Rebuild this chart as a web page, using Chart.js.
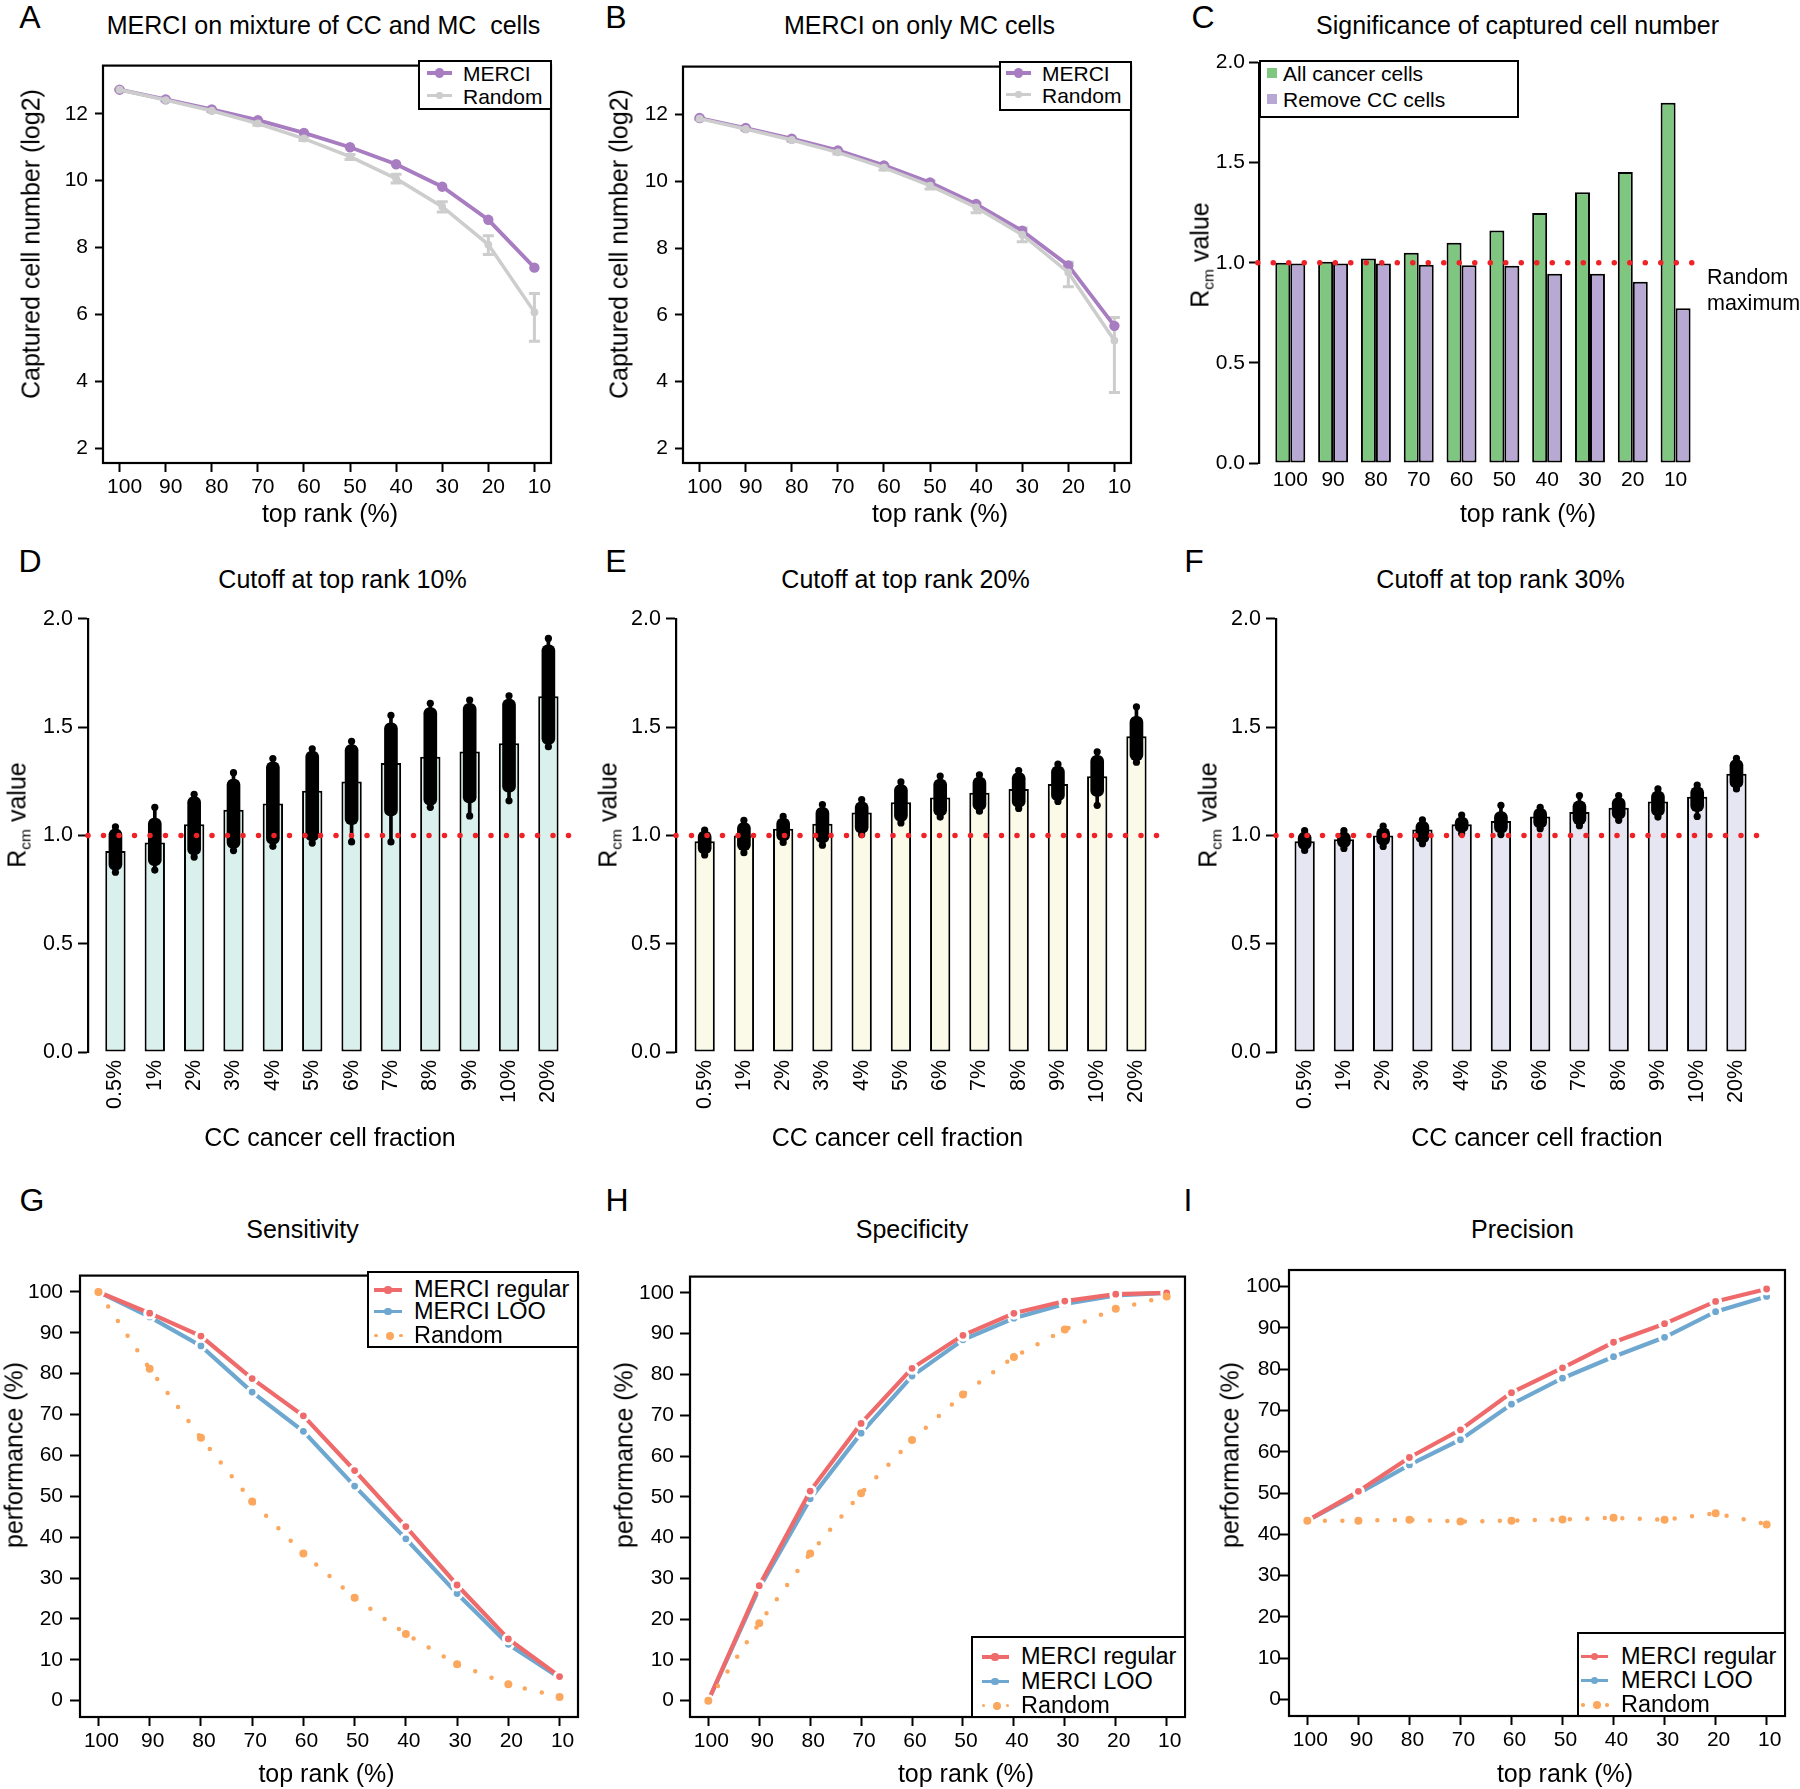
<!DOCTYPE html>
<html>
<head>
<meta charset="utf-8">
<title>MERCI benchmark figure</title>
<script src="https://cdn.jsdelivr.net/npm/chart.js@4.4.1/dist/chart.umd.min.js"></script>
<style>
  html, body { margin:0; padding:0; background:#fff; }
  body { position:relative; width:1800px; height:1789px; overflow:hidden; font-family:"Liberation Sans", Arial, Helvetica, sans-serif; color:#000; }
  canvas { position:absolute; }
  .t { position:absolute; white-space:pre; line-height:1; }
  .lg { position:absolute; border:2px solid #000; background:#fff; box-sizing:border-box; }
  .sw { position:absolute; }
</style>
</head>
<body>
<script>
// ================= DATA =================
const topRank = [100, 90, 80, 70, 60, 50, 40, 30, 20, 10];
const yTicksLog2 = [2, 4, 6, 8, 10, 12];
const yTicksR = [0, 0.5, 1, 1.5, 2];
const yTicksPerf = [0, 10, 20, 30, 40, 50, 60, 70, 80, 90, 100];
const ccFraction = ['0.5%', '1%', '2%', '3%', '4%', '5%', '6%', '7%', '8%', '9%', '10%', '20%'];

// A: MERCI on mixture of CC and MC cells (log2 captured cells)
const mixMerci    = [12.72, 12.43, 12.13, 11.81, 11.43, 11.00, 10.49, 9.82, 8.83, 7.40];
const mixRandom   = [12.72, 12.41, 12.09, 11.71, 11.26, 10.72, 10.06, 9.22, 8.09, 6.07];
const mixRandomLo = [12.71, 12.39, 12.06, 11.66, 11.20, 10.63, 9.93, 9.06, 7.79, 5.20];
const mixRandomHi = [12.73, 12.43, 12.12, 11.75, 11.31, 10.78, 10.19, 9.37, 8.35, 6.63];

// B: MERCI on only MC cells
const mcMerci    = [11.90, 11.60, 11.28, 10.93, 10.48, 9.97, 9.32, 8.52, 7.48, 5.67];
const mcRandom   = [11.88, 11.57, 11.24, 10.87, 10.41, 9.87, 9.22, 8.40, 7.27, 5.23];
const mcRandomLo = [11.86, 11.54, 11.20, 10.82, 10.34, 9.77, 9.06, 8.19, 6.84, 3.67];
const mcRandomHi = [11.90, 11.60, 11.28, 10.92, 10.50, 10.02, 9.35, 8.60, 7.58, 5.92];

// C: Significance of captured cell number (Rcm)
const rcmAllCancer = [1.000, 1.005, 1.022, 1.050, 1.100, 1.161, 1.249, 1.352, 1.454, 1.800];
const rcmRemoveCC  = [0.997, 0.997, 0.997, 0.990, 0.988, 0.985, 0.945, 0.945, 0.905, 0.773];
const randomMaximum = 1.0;

// D: cutoff top rank 10%
const d10Bar     = [0.928, 0.968, 1.052, 1.119, 1.148, 1.206, 1.249, 1.334, 1.363, 1.388, 1.426, 1.643];
const d10Min     = [0.830, 0.840, 0.900, 0.930, 0.950, 0.965, 0.970, 0.970, 1.130, 1.090, 1.160, 1.410];
const d10Max     = [1.040, 1.130, 1.190, 1.290, 1.355, 1.400, 1.435, 1.555, 1.610, 1.625, 1.645, 1.910];
const d10CoreMin = [0.840, 0.860, 0.910, 0.940, 0.960, 0.975, 1.050, 1.090, 1.140, 1.150, 1.200, 1.420];
const d10CoreMax = [1.030, 1.080, 1.180, 1.260, 1.340, 1.390, 1.420, 1.520, 1.590, 1.610, 1.630, 1.880];

// E: cutoff top rank 20%
const d20Bar     = [0.973, 1.000, 1.031, 1.054, 1.106, 1.153, 1.175, 1.197, 1.215, 1.238, 1.273, 1.458];
const d20Min     = [0.910, 0.920, 0.968, 0.955, 1.004, 1.058, 1.085, 1.112, 1.125, 1.157, 1.139, 1.338];
const d20Max     = [1.025, 1.070, 1.088, 1.143, 1.166, 1.247, 1.274, 1.280, 1.300, 1.329, 1.386, 1.594];
const d20CoreMin = [0.915, 0.930, 0.975, 0.965, 1.010, 1.065, 1.090, 1.115, 1.130, 1.160, 1.180, 1.345];
const d20CoreMax = [1.020, 1.060, 1.080, 1.130, 1.155, 1.235, 1.260, 1.270, 1.290, 1.320, 1.370, 1.550];

// F: cutoff top rank 30%
const d30Bar     = [0.973, 0.982, 1.000, 1.027, 1.052, 1.067, 1.088, 1.108, 1.128, 1.157, 1.179, 1.285];
const d30Min     = [0.931, 0.940, 0.949, 0.962, 1.009, 1.004, 1.031, 1.045, 1.070, 1.085, 1.088, 1.215];
const d30Max     = [1.022, 1.022, 1.043, 1.072, 1.094, 1.139, 1.130, 1.184, 1.184, 1.215, 1.233, 1.356];
const d30CoreMin = [0.935, 0.945, 0.955, 0.965, 1.015, 1.010, 1.035, 1.050, 1.075, 1.090, 1.110, 1.220];
const d30CoreMax = [1.015, 1.015, 1.035, 1.065, 1.085, 1.110, 1.125, 1.160, 1.175, 1.205, 1.225, 1.350];

// G: Sensitivity
const sensRegular = [100, 94.8, 89.2, 78.8, 69.7, 56.3, 42.6, 28.3, 15.1, 5.9];
const sensLOO     = [100, 93.9, 86.8, 75.5, 65.9, 52.5, 39.6, 26.2, 13.8, 5.6];
const sensRandom  = [100, 81.2, 64.3, 48.7, 36.0, 25.2, 16.3, 8.9, 4.0, 0.9];

// H: Specificity
const specRegular = [0, 28.2, 51.4, 68.0, 81.5, 89.6, 95.0, 98.0, 99.7, 100];
const specLOO     = [0, 27.6, 49.5, 65.6, 79.6, 88.5, 93.8, 97.3, 99.4, 100];
const specRandom  = [0, 19.0, 36.1, 50.9, 63.9, 75.1, 84.3, 91.0, 96.1, 99.1];

// I: Precision
const precRegular = [43.3, 50.4, 58.6, 65.3, 74.3, 80.3, 86.5, 91.0, 96.4, 99.4];
const precLOO     = [43.3, 49.9, 56.8, 62.9, 71.5, 77.8, 83.0, 87.7, 93.9, 97.6];
const precRandom  = [43.3, 43.3, 43.5, 43.1, 43.3, 43.6, 44.0, 43.5, 45.1, 42.4];

// ================= STYLE =================
const FONT = '"Liberation Sans", Arial, Helvetica, sans-serif';
const COL = {
  purple: '#a77cc1', gray: '#cdcdcd',
  green: '#7fc680', lav: '#b7a9d3',
  red: '#ef6b6b', blue: '#6ea7cf', orange: '#fba75d',
  dot: '#ee2227',
  mint: '#daf0ec', cream: '#fbfae8', lilac: '#e5e6f2'
};
Chart.defaults.font.family = FONT;
Chart.defaults.color = '#000';
Chart.defaults.animation = false;
Chart.defaults.events = [];
Chart.defaults.plugins.legend.display = false;
Chart.defaults.plugins.tooltip.enabled = false;

// ================= HELPERS =================
const xy = (xs, ys) => xs.map((x, i) => ({ x, y: ys[i] }));
const idx = (ys) => ys.map((y, i) => ({ x: i + 1, y }));
const idxRange = (lo, hi) => lo.map((l, i) => ({ x: i + 1, y: [l, hi[i]] }));

function makeCanvas(box, m) {
  const c = document.createElement('canvas');
  const w = Math.round(box.r - box.l + m.yw + m.pr);
  const h = Math.round(box.b - box.t + m.pt + m.xh);
  c.width = w; c.height = h;
  c.style.left = (box.l - m.yw) + 'px';
  c.style.top = (box.t - m.pt) + 'px';
  c.style.width = w + 'px'; c.style.height = h + 'px';
  document.body.appendChild(c);
  return c;
}

const framePlugin = {
  id: 'frame',
  afterDatasetsDraw(chart) {
    const a = chart.chartArea, ctx = chart.ctx;
    ctx.save(); ctx.strokeStyle = '#000'; ctx.lineWidth = 2.2;
    ctx.strokeRect(a.left, a.top, a.right - a.left, a.bottom - a.top);
    ctx.restore();
  }
};

const errorBarPlugin = {
  id: 'errbars',
  beforeDatasetsDraw(chart) {
    const ctx = chart.ctx, xs = chart.scales.x, ys = chart.scales.y;
    chart.data.datasets.forEach(ds => {
      if (!ds.errLo) return;
      ctx.save(); ctx.strokeStyle = ds.borderColor; ctx.lineWidth = 3;
      ds.data.forEach((p, i) => {
        const x = xs.getPixelForValue(p.x);
        const y1 = ys.getPixelForValue(ds.errLo[i]);
        const y2 = ys.getPixelForValue(ds.errHi[i]);
        ctx.beginPath();
        ctx.moveTo(x, y1); ctx.lineTo(x, y2);
        ctx.moveTo(x - 5.5, y1); ctx.lineTo(x + 5.5, y1);
        ctx.moveTo(x - 5.5, y2); ctx.lineTo(x + 5.5, y2);
        ctx.stroke();
      });
      ctx.restore();
    });
  }
};

function yAxis(min, max, ticks, m, fmt, size, tickLen, pad, showBorder) {
  return {
    type: 'linear', position: 'left', min, max,
    afterBuildTicks: s => { s.ticks = ticks.map(v => ({ value: v })); },
    afterFit: s => { s.width = m.yw; },
    ticks: { autoSkip: false, font: { size }, color: '#000', padding: pad, callback: fmt },
    grid: { display: true, drawOnChartArea: false, drawTicks: true, tickLength: tickLen, tickWidth: 2, tickColor: '#000' },
    border: { display: showBorder, color: '#000', width: 2.2 }
  };
}

function rankXAxis(m, size, pad, labelOffset) {
  return {
    type: 'linear', reverse: true, min: 6.4, max: 103.6, offset: false,
    afterBuildTicks: s => { s.ticks = topRank.map(v => ({ value: v })); },
    afterFit: s => { s.height = m.xh; },
    ticks: { autoSkip: false, maxRotation: 0, minRotation: 0, font: { size }, color: '#000', padding: pad,
             labelOffset: labelOffset, callback: v => String(v) },
    grid: { display: true, drawOnChartArea: false, drawTicks: true, tickLength: 9, tickWidth: 2, tickColor: '#000', offset: false },
    border: { display: false }
  };
}

function catXAxis(m, min, max, labels, rotated, size, pad) {
  return {
    type: 'linear', min, max, offset: false,
    afterBuildTicks: s => { s.ticks = labels.map((_, i) => ({ value: i + 1 })); },
    afterFit: s => { s.height = m.xh; },
    ticks: {
      autoSkip: false, font: { size }, color: '#000', padding: pad,
      minRotation: rotated ? 90 : 0, maxRotation: rotated ? 90 : 0,
      callback: v => { const k = Math.round(v) - 1; return labels[k] !== undefined ? String(labels[k]) : ''; }
    },
    grid: { display: false, drawTicks: false, tickLength: 0, offset: false },
    border: { display: false }
  };
}

// ---------- line panels (A, B, G, H, I) ----------
function linePanel(box, m, yMin, yMax, yTicks, datasets, ySize, yTickLen, yPad, labelOffset, plugins) {
  const c = makeCanvas(box, m);
  return new Chart(c, {
    type: 'line',
    data: { datasets },
    options: {
      responsive: false, devicePixelRatio: 1, maintainAspectRatio: false,
      layout: { padding: { left: 0, top: m.pt, right: m.pr, bottom: 0 } },
      elements: { line: { tension: 0 } },
      scales: {
        x: rankXAxis(m, 21, 3, labelOffset),
        y: yAxis(yMin, yMax, yTicks, m, v => String(v), ySize, yTickLen, yPad, false)
      }
    },
    plugins: [framePlugin].concat(plugins || [])
  });
}

// ---------- A, B ----------
const mLog = { yw: 62, pt: 14, pr: 22, xh: 48 };
function captureDatasets(merci, rnd, lo, hi) {
  return [
    { label: 'MERCI', data: xy(topRank, merci), borderColor: COL.purple, backgroundColor: COL.purple,
      borderWidth: 3.8, pointRadius: 5.2, pointBackgroundColor: COL.purple, pointBorderWidth: 0, order: 2 },
    { label: 'Random', data: xy(topRank, rnd), borderColor: COL.gray, backgroundColor: COL.gray,
      borderWidth: 3.5, pointRadius: 3.9, pointBackgroundColor: COL.gray, pointBorderWidth: 0, order: 1,
      errLo: lo, errHi: hi }
  ];
}
linePanel({ l: 103, t: 60, r: 551, b: 463 }, mLog, 1.56, 13.44, yTicksLog2,
  captureDatasets(mixMerci, mixRandom, mixRandomLo, mixRandomHi), 21, 8, 7, 5, [errorBarPlugin]);
linePanel({ l: 683, t: 61, r: 1131, b: 463 }, mLog, 1.56, 13.44, yTicksLog2,
  captureDatasets(mcMerci, mcRandom, mcRandomLo, mcRandomHi), 21, 8, 7, 5, [errorBarPlugin]);

// ---------- C ----------
(function () {
  const m = { yw: 62, pt: 14, pr: 20, xh: 44 };
  const box = { l: 1259, t: 60, r: 1700, b: 463 };
  const c = makeCanvas(box, m);
  const xMin = 0.269, xMax = 10.57;
  new Chart(c, {
    type: 'bar',
    data: {
      datasets: [
        { label: 'All cancer cells', data: idx(rcmAllCancer), backgroundColor: COL.green, borderColor: '#000',
          borderWidth: 2, borderSkipped: false, categoryPercentage: 0.70, barPercentage: 1.0, order: 2 },
        { label: 'Remove CC cells', data: idx(rcmRemoveCC), backgroundColor: COL.lav, borderColor: '#000',
          borderWidth: 2, borderSkipped: false, categoryPercentage: 0.70, barPercentage: 1.0, order: 3 },
        { type: 'line', label: 'Random maximum', data: [{ x: 0.24, y: randomMaximum }, { x: 10.45, y: randomMaximum }],
          borderColor: COL.dot, borderWidth: 5.5, borderDash: [0, 15.5], borderCapStyle: 'round',
          pointRadius: 0, clip: false, order: 1 }
      ]
    },
    options: {
      responsive: false, devicePixelRatio: 1,
      layout: { padding: { left: 0, top: m.pt, right: m.pr, bottom: 0 } },
      scales: {
        x: catXAxis(m, xMin, xMax, topRank, false, 21, 5),
        y: yAxis(0, 2, yTicksR, m, v => v.toFixed(1), 21, 10, 4, true)
      }
    }
  });
})();

// ---------- D, E, F ----------
function stripPanel(box, xMin, fill, bars, sMin, sMax, cMin, cMax) {
  const m = { yw: 62, pt: 14, pr: 12, xh: 72 };
  const c = makeCanvas(box, m);
  new Chart(c, {
    type: 'bar',
    data: {
      datasets: [
        { label: 'mean', data: idx(bars), backgroundColor: fill, borderColor: '#000', borderWidth: 2,
          borderSkipped: false, grouped: false, categoryPercentage: 1, barPercentage: 0.517, order: 6 },
        { label: 'range', data: idxRange(sMin, sMax), backgroundColor: '#000', borderWidth: 0,
          grouped: false, barThickness: 3, order: 5 },
        { label: 'core', data: idxRange(cMin, cMax), backgroundColor: '#000', borderWidth: 0,
          grouped: false, barThickness: 13, borderRadius: 6, borderSkipped: false, order: 4 },
        { type: 'line', label: 'ends', data: idx(sMin).concat(idx(sMax)), showLine: false,
          pointRadius: 3.6, pointBackgroundColor: '#000', pointBorderWidth: 0, order: 3 },
        { type: 'line', label: 'Random maximum', data: [{ x: xMin, y: 1 }, { x: 12.54, y: 1 }],
          borderColor: COL.dot, borderWidth: 5.5, borderDash: [0, 15.5], borderCapStyle: 'round',
          pointRadius: 0, clip: false, order: 1 }
      ]
    },
    options: {
      responsive: false, devicePixelRatio: 1,
      layout: { padding: { left: 0, top: m.pt, right: m.pr, bottom: 0 } },
      scales: {
        x: catXAxis(m, xMin, 12.6, ccFraction, true, 21.5, 8),
        y: yAxis(0, 2, yTicksR, m, v => v.toFixed(1), 21.5, 10, 5, true)
      }
    }
  });
}
stripPanel({ l: 88, t: 615, r: 572, b: 1052 }, 0.303, COL.mint, d10Bar, d10Min, d10Max, d10CoreMin, d10CoreMax);
stripPanel({ l: 676, t: 615, r: 1160, b: 1052 }, 0.27, COL.cream, d20Bar, d20Min, d20Max, d20CoreMin, d20CoreMax);
stripPanel({ l: 1276, t: 615, r: 1760, b: 1052 }, 0.27, COL.lilac, d30Bar, d30Min, d30Max, d30CoreMin, d30CoreMax);

// ---------- G, H, I ----------
const mPerf = { yw: 62, pt: 14, pr: 22, xh: 48 };
function perfDatasets(reg, loo, rnd) {
  return [
    { label: 'MERCI regular', data: xy(topRank, reg), borderColor: COL.red, backgroundColor: COL.red,
      borderWidth: 4.2, pointRadius: 4.9, pointBackgroundColor: COL.red, pointBorderColor: '#fff', pointBorderWidth: 3, order: 2 },
    { label: 'MERCI LOO', data: xy(topRank, loo), borderColor: COL.blue, backgroundColor: COL.blue,
      borderWidth: 4.2, pointRadius: 4.9, pointBackgroundColor: COL.blue, pointBorderColor: '#fff', pointBorderWidth: 3, order: 3 },
    { label: 'Random', data: xy(topRank, rnd), borderColor: COL.orange, backgroundColor: COL.orange,
      borderWidth: 4.5, borderDash: [0, 17.5], borderCapStyle: 'round',
      pointRadius: 4, pointBackgroundColor: COL.orange, pointBorderWidth: 0, order: 1 }
  ];
}
linePanel({ l: 80, t: 1270, r: 578, b: 1717 }, mPerf, -4, 104, yTicksPerf, perfDatasets(sensRegular, sensLOO, sensRandom), 21, 10, 7, 3);
linePanel({ l: 690, t: 1272, r: 1185, b: 1717 }, mPerf, -4, 104, yTicksPerf, perfDatasets(specRegular, specLOO, specRandom), 21, 10, 6, 3);
linePanel({ l: 1289, t: 1270, r: 1785, b: 1716 }, mPerf, -4, 104, yTicksPerf, perfDatasets(precRegular, precLOO, precRandom), 21, 11, -3, 3);

// ================= TEXT / LEGENDS =================
function txt(s, x, y, size, opt) {
  opt = opt || {};
  const d = document.createElement('div');
  d.className = 't';
  if (opt.html) d.innerHTML = s; else d.textContent = s;
  d.style.fontSize = size + 'px';
  d.style.left = x + 'px'; d.style.top = y + 'px';
  let tr = opt.left ? 'translate(0,-50%)' : 'translate(-50%,-50%)';
  if (opt.rot) tr += ' rotate(-90deg)';
  d.style.transform = tr;
  document.body.appendChild(d);
}
function el(cls, l, t, w, h, style) {
  const d = document.createElement('div');
  d.className = cls;
  Object.assign(d.style, { left: l + 'px', top: t + 'px', width: w + 'px', height: h + 'px' }, style || {});
  document.body.appendChild(d);
  return d;
}
function legendBox(l, t, r, b) { el('lg', l, t, r - l, b - t); }
function swLine(x1, x2, y, color, w) { el('sw', x1, y - w / 2, x2 - x1, w, { background: color }); }
function swDot(cx, cy, r, color) { el('sw', cx - r, cy - r, 2 * r, 2 * r, { background: color, borderRadius: '50%' }); }
function swSquare(cx, cy, s, color) { el('sw', cx - s / 2, cy - s / 2, s, s, { background: color }); }

// panel letters
[['A', 30, 17], ['B', 616, 17], ['C', 1203, 17], ['D', 30, 561], ['E', 616, 561], ['F', 1194, 561],
 ['G', 32, 1200], ['H', 617, 1200], ['I', 1188, 1200]].forEach(p => txt(p[0], p[1], p[2], 32));

// panel titles
txt('MERCI on mixture of CC and MC  cells', 323.5, 25, 25);
txt('MERCI on only MC cells', 919.5, 25, 25);
txt('Significance of captured cell number', 1517.5, 25, 25);
txt('Cutoff at top rank 10%', 342.5, 579, 25);
txt('Cutoff at top rank 20%', 905.5, 579, 25);
txt('Cutoff at top rank 30%', 1500.5, 579, 25);
txt('Sensitivity', 302.5, 1229, 25);
txt('Specificity', 912, 1229, 25);
txt('Precision', 1522.5, 1229, 25);

// axis titles
txt('top rank (%)', 330, 513, 25);
txt('top rank (%)', 940, 513, 25);
txt('top rank (%)', 1528, 513, 25);
txt('CC cancer cell fraction', 330, 1137, 25);
txt('CC cancer cell fraction', 897.5, 1137, 25);
txt('CC cancer cell fraction', 1537, 1137, 25);
txt('top rank (%)', 326.5, 1773, 25);
txt('top rank (%)', 966, 1773, 25);
txt('top rank (%)', 1565, 1773, 25);

txt('Captured cell number (log2)', 31, 244, 25, { rot: true });
txt('Captured cell number (log2)', 619, 244, 25, { rot: true });
const rcmLabel = 'R<sub style="font-size:0.62em;vertical-align:-0.3em;line-height:0">cm</sub> value';
txt(rcmLabel, 1200, 255, 25, { rot: true, html: true });
txt(rcmLabel, 17, 815, 25, { rot: true, html: true });
txt(rcmLabel, 608, 815, 25, { rot: true, html: true });
txt(rcmLabel, 1208, 815, 25, { rot: true, html: true });
txt('performance (%)', 14, 1455, 25, { rot: true });
txt('performance (%)', 623.5, 1455, 25, { rot: true });
txt('performance (%)', 1229.5, 1455, 25, { rot: true });

// C side note
txt('Random', 1707, 277.5, 21.5, { left: true });
txt('maximum', 1707, 303.5, 21.5, { left: true });

// legends A, B
function captureLegend(l, t, r, b, y1, y2, lx1, lx2, tx) {
  legendBox(l, t, r, b);
  swLine(lx1, lx2, y1, COL.purple, 3.5); swDot((lx1 + lx2) / 2, y1, 4.6, COL.purple);
  swLine(lx1, lx2, y2, COL.gray, 3.5); swDot((lx1 + lx2) / 2, y2, 3.2, COL.gray);
  txt('MERCI', tx, y1, 21, { left: true });
  txt('Random', tx, y2, 21, { left: true });
}
captureLegend(418, 60, 552, 110, 73, 95.5, 427, 452, 463);
captureLegend(999, 61, 1132, 111, 73, 94.5, 1006, 1031, 1042);

// legend C
legendBox(1259, 60, 1519, 118);
swSquare(1272, 73, 10, COL.green); txt('All cancer cells', 1283, 73, 21, { left: true });
swSquare(1272, 98.5, 10, COL.lav); txt('Remove CC cells', 1283, 98.5, 21, { left: true });

// legends G, H, I
function perfLegend(l, t, r, b, ys, lx1, lx2, tx) {
  legendBox(l, t, r, b);
  const cx = (lx1 + lx2) / 2;
  swLine(lx1, lx2, ys[0], COL.red, 3.5); swDot(cx, ys[0], 3.6, COL.red);
  swLine(lx1, lx2, ys[1], COL.blue, 3.5); swDot(cx, ys[1], 3.6, COL.blue);
  swDot(lx1 + 2, ys[2], 1.8, COL.orange); swDot(cx + 2, ys[2], 4, COL.orange); swDot(lx2 - 1, ys[2], 1.8, COL.orange);
  txt('MERCI regular', tx, ys[0], 23.5, { left: true });
  txt('MERCI LOO', tx, ys[1], 23.5, { left: true });
  txt('Random', tx, ys[2], 23.5, { left: true });
}
perfLegend(367, 1271, 579, 1348, [1290, 1311.5, 1335.5], 374, 402, 414);
perfLegend(971, 1636, 1186, 1718, [1657, 1681.5, 1705.5], 981.5, 1008.5, 1021);
perfLegend(1577, 1632, 1786, 1717, [1656.5, 1680.5, 1705], 1581, 1608, 1621);
</script>
</body>
</html>
